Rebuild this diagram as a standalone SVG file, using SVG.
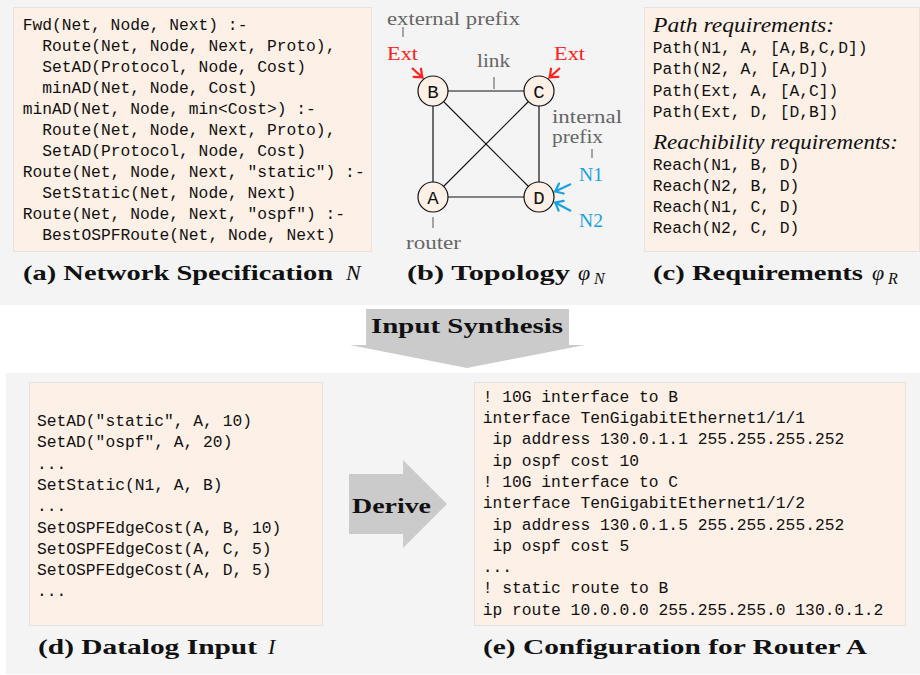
<svg xmlns="http://www.w3.org/2000/svg" width="920" height="675" viewBox="0 0 920 675">
<defs>
<style>
.panel{fill:#f4f4f4}
.box{fill:#fdf0e6;stroke:#e6e2de;stroke-width:1}
.mono{font-family:"Liberation Mono","DejaVu Sans Mono",monospace;font-size:16.3px;fill:#111}
.cap{font-family:"Liberation Serif","Times New Roman",serif;font-size:22px;font-weight:bold;fill:#111}
.math{font-family:"Liberation Serif","Times New Roman",serif;font-style:italic;fill:#111}
.ital{font-family:"Liberation Serif","Times New Roman",serif;font-style:italic;font-size:20px;fill:#111}
.lbl{font-family:"Liberation Serif","Times New Roman",serif;font-size:19.5px;fill:#666}
.tick{stroke:#555;stroke-width:1}
.edge{stroke:#111;stroke-width:1.2;fill:none}
.node{fill:#fdf0e6;stroke:#111;stroke-width:1.2}
.nlbl{font-family:"Liberation Mono","DejaVu Sans Mono",monospace;font-size:19px;fill:#111;text-anchor:middle}
.bigarrow{fill:#cbcbcb}
.red{fill:#ff2020}
.blue{fill:#1ba1e2}
</style>
<marker id="hr" viewBox="-9 -7 11 14" refX="0" refY="0" markerWidth="11" markerHeight="14" orient="auto" markerUnits="userSpaceOnUse">
<path d="M-7,-5.5 Q-2.5,-1.5 0,0 Q-2.5,1.5 -7,5.5" fill="none" stroke="#ff2020" stroke-width="2.2" stroke-linecap="round"/>
</marker>
<marker id="hb" viewBox="-9 -7 11 14" refX="0" refY="0" markerWidth="11" markerHeight="14" orient="auto" markerUnits="userSpaceOnUse">
<path d="M-7,-5.5 Q-2.5,-1.5 0,0 Q-2.5,1.5 -7,5.5" fill="none" stroke="#1ba1e2" stroke-width="2.2" stroke-linecap="round"/>
</marker>
</defs>

<rect class="panel" x="0" y="0" width="920" height="305"/>
<rect class="panel" x="6" y="373" width="914" height="301"/>

<g id="spec">
<rect class="box" x="13.5" y="7.5" width="358" height="244"/>
<text class="mono" x="22.7" y="29.5">Fwd(Net, Node, Next) :-</text>
<text class="mono" x="42.3" y="50.6">Route(Net, Node, Next, Proto),</text>
<text class="mono" x="42.3" y="71.6">SetAD(Protocol, Node, Cost)</text>
<text class="mono" x="42.3" y="92.7">minAD(Net, Node, Cost)</text>
<text class="mono" x="22.7" y="113.8">minAD(Net, Node, min&lt;Cost&gt;) :-</text>
<text class="mono" x="42.3" y="134.9">Route(Net, Node, Next, Proto),</text>
<text class="mono" x="42.3" y="155.9">SetAD(Protocol, Node, Cost)</text>
<text class="mono" x="22.7" y="177">Route(Net, Node, Next, "static") :-</text>
<text class="mono" x="42.3" y="198.1">SetStatic(Net, Node, Next)</text>
<text class="mono" x="22.7" y="219.1">Route(Net, Node, Next, "ospf") :-</text>
<text class="mono" x="42.3" y="240.2">BestOSPFRoute(Net, Node, Next)</text>
<text class="cap" x="23" y="279.5" textLength="310" lengthAdjust="spacingAndGlyphs">(a) Network Specification</text>
<text class="math" x="346" y="279.5" font-size="22">N</text>
</g>

<g id="topology">
<g id="labels">
<text class="lbl" x="387" y="25" textLength="133" lengthAdjust="spacingAndGlyphs">external prefix</text>
<line class="tick" x1="403" y1="27" x2="403" y2="37"/>
<text class="lbl" x="477" y="67" textLength="33" lengthAdjust="spacingAndGlyphs">link</text>
<line class="tick" x1="494" y1="77" x2="494" y2="89"/>
<text class="lbl" x="552" y="123" textLength="70" lengthAdjust="spacingAndGlyphs">internal</text>
<text class="lbl" x="552" y="143" textLength="51" lengthAdjust="spacingAndGlyphs">prefix</text>
<line class="tick" x1="592" y1="149" x2="592" y2="158"/>
<text class="lbl" x="406" y="248.5" textLength="55" lengthAdjust="spacingAndGlyphs">router</text>
<line class="tick" x1="433" y1="217" x2="433" y2="228"/>
<text class="lbl red" x="387" y="60" textLength="31" lengthAdjust="spacingAndGlyphs">Ext</text>
<text class="lbl red" x="554" y="60" textLength="31" lengthAdjust="spacingAndGlyphs">Ext</text>
<text class="lbl blue" x="579" y="180.5" textLength="24" lengthAdjust="spacingAndGlyphs">N1</text>
<text class="lbl blue" x="579" y="227" textLength="24" lengthAdjust="spacingAndGlyphs">N2</text>
</g>
<g id="connectors">
<line class="edge" x1="433" y1="91" x2="539" y2="91"/>
<line class="edge" x1="433" y1="197" x2="539" y2="197"/>
<line class="edge" x1="433" y1="91" x2="433" y2="197"/>
<line class="edge" x1="539" y1="91" x2="539" y2="197"/>
<line class="edge" x1="433" y1="91" x2="539" y2="197"/>
<line class="edge" x1="539" y1="91" x2="433" y2="197"/>
<line x1="412" y1="68" x2="422.5" y2="77.5" stroke="#ff2020" stroke-width="2.2" marker-end="url(#hr)"/>
<line x1="560" y1="68" x2="549.5" y2="77.5" stroke="#ff2020" stroke-width="2.2" marker-end="url(#hr)"/>
<line x1="571" y1="184" x2="555" y2="191.5" stroke="#1ba1e2" stroke-width="2.2" marker-end="url(#hb)"/>
<line x1="571" y1="211" x2="555" y2="202.5" stroke="#1ba1e2" stroke-width="2.2" marker-end="url(#hb)"/>
</g>
<g id="node-B"><circle class="node" cx="433" cy="91" r="15"/><text class="nlbl" x="433" y="97.5">B</text></g>
<g id="node-C"><circle class="node" cx="539" cy="91" r="15"/><text class="nlbl" x="539" y="97.5">C</text></g>
<g id="node-A"><circle class="node" cx="433" cy="197" r="15"/><text class="nlbl" x="433" y="203.5">A</text></g>
<g id="node-D"><circle class="node" cx="539" cy="197" r="15"/><text class="nlbl" x="539" y="203.5">D</text></g>
<text class="cap" x="407" y="279.5" textLength="163" lengthAdjust="spacingAndGlyphs">(b) Topology</text>
<text class="math" x="578" y="279.5" font-size="22">φ</text>
<text class="math" x="594" y="284" font-size="16">N</text>
</g>

<g id="requirements">
<rect class="box" x="644.5" y="7.5" width="275" height="244"/>
<text class="ital" x="653" y="31.5" textLength="181" lengthAdjust="spacingAndGlyphs">Path requirements:</text>
<text class="mono" x="652.7" y="53">Path(N1, A, [A,B,C,D])</text>
<text class="mono" x="652.7" y="74.3">Path(N2, A, [A,D])</text>
<text class="mono" x="652.7" y="95.6">Path(Ext, A, [A,C])</text>
<text class="mono" x="652.7" y="116.9">Path(Ext, D, [D,B])</text>
<text class="ital" x="653" y="149" textLength="245" lengthAdjust="spacingAndGlyphs">Reachibility requirements:</text>
<text class="mono" x="652.7" y="169.5">Reach(N1, B, D)</text>
<text class="mono" x="652.7" y="190.8">Reach(N2, B, D)</text>
<text class="mono" x="652.7" y="212.1">Reach(N1, C, D)</text>
<text class="mono" x="652.7" y="233.4">Reach(N2, C, D)</text>
<text class="cap" x="653" y="279.5" textLength="210" lengthAdjust="spacingAndGlyphs">(c) Requirements</text>
<text class="math" x="872" y="279.5" font-size="22">φ</text>
<text class="math" x="888" y="284" font-size="16">R</text>
</g>

<g id="input-synthesis">
<path class="bigarrow" d="M366,309 H569 V345 H585 L467,368 L350,345 H366 Z"/>
<text class="cap" x="371" y="333" textLength="192" lengthAdjust="spacingAndGlyphs">Input Synthesis</text>
</g>

<g id="datalog-input">
<rect class="box" x="29.5" y="382.5" width="293" height="243"/>
<text class="mono" x="37" y="426">SetAD("static", A, 10)</text>
<text class="mono" x="37" y="447.3">SetAD("ospf", A, 20)</text>
<text class="mono" x="37" y="468.6">...</text>
<text class="mono" x="37" y="489.9">SetStatic(N1, A, B)</text>
<text class="mono" x="37" y="511.2">...</text>
<text class="mono" x="37" y="532.5">SetOSPFEdgeCost(A, B, 10)</text>
<text class="mono" x="37" y="553.8">SetOSPFEdgeCost(A, C, 5)</text>
<text class="mono" x="37" y="575.1">SetOSPFEdgeCost(A, D, 5)</text>
<text class="mono" x="37" y="596.4">...</text>
<text class="cap" x="38" y="654" textLength="219" lengthAdjust="spacingAndGlyphs">(d) Datalog Input</text>
<text class="math" x="268" y="654" font-size="22">I</text>
</g>

<g id="derive">
<path class="bigarrow" d="M349,474 H403 V460 L447,504 L403,548 V534 H349 Z"/>
<text class="cap" x="352" y="513" textLength="79" lengthAdjust="spacingAndGlyphs">Derive</text>
</g>

<g id="configuration">
<rect class="box" x="474.5" y="382.5" width="431" height="243"/>
<text class="mono" x="482.7" y="401.7">! 10G interface to B</text>
<text class="mono" x="482.7" y="423">interface TenGigabitEthernet1/1/1</text>
<text class="mono" x="492.5" y="444.3">ip address 130.0.1.1 255.255.255.252</text>
<text class="mono" x="492.5" y="465.6">ip ospf cost 10</text>
<text class="mono" x="482.7" y="486.9">! 10G interface to C</text>
<text class="mono" x="482.7" y="508.2">interface TenGigabitEthernet1/1/2</text>
<text class="mono" x="492.5" y="529.5">ip address 130.0.1.5 255.255.255.252</text>
<text class="mono" x="492.5" y="550.8">ip ospf cost 5</text>
<text class="mono" x="482.7" y="572.1">...</text>
<text class="mono" x="482.7" y="593.4">! static route to B</text>
<text class="mono" x="482.7" y="614.7">ip route 10.0.0.0 255.255.255.0 130.0.1.2</text>
<text class="cap" x="483" y="653.5" textLength="384" lengthAdjust="spacingAndGlyphs">(e) Configuration for Router A</text>
</g>
</svg>
